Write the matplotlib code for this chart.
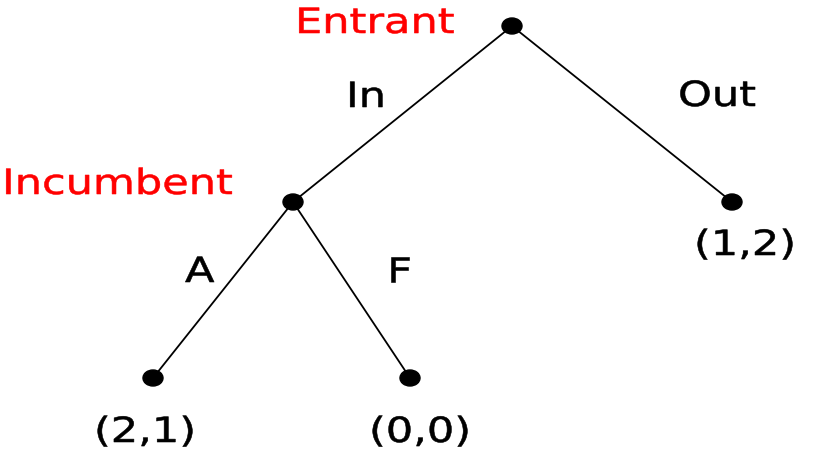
import matplotlib
matplotlib.use("Agg")
import matplotlib.pyplot as plt
from matplotlib.patches import Ellipse
from matplotlib.patheffects import AbstractPathEffect
from matplotlib.transforms import Affine2D

# Game tree: node positions (pixel-like layout units, y downward)
node_names = ["root", "incumbent", "out", "accept", "fight"]
node_x = [512, 293, 732, 153, 410]
node_y = [26, 202, 202, 378, 378]

# Edges (parent, child) and action labels
edges = [("root", "incumbent"), ("root", "out"), ("incumbent", "accept"), ("incumbent", "fight")]
action_labels = ["In", "Out", "A", "F"]
action_pos = [(346, 107), (678, 106), (185, 282), (387, 282)]

# Player labels
player_labels = ["Entrant", "Incumbent"]
player_pos = [(295, 33), (2, 194)]

# Payoffs at terminal nodes
payoff_labels = ["(1,2)", "(2,1)", "(0,0)"]
payoff_pos = [(694, 255), (94, 442), (369, 442)]


class StretchX(AbstractPathEffect):
    """Widen glyphs horizontally and thicken strokes slightly."""

    def __init__(self, sx, lw):
        super().__init__()
        self.sx = sx
        self.lw = lw

    def draw_path(self, renderer, gc, tpath, affine, rgbFace=None):
        trans = Affine2D().scale(self.sx, 1.0) + affine
        gc0 = renderer.new_gc()
        gc0.copy_properties(gc)
        gc0.set_linewidth(self.lw)
        if rgbFace is not None:
            gc0.set_foreground(rgbFace)
        gc0.set_joinstyle("round")
        renderer.draw_path(gc0, tpath, trans, rgbFace)
        gc0.restore()


fig = plt.figure(figsize=(8.14, 4.58), dpi=100)
ax = fig.add_axes([0, 0, 1, 1])
ax.set_xlim(0, 814)
ax.set_ylim(458, 0)
ax.axis("off")

pos = dict(zip(node_names, zip(node_x, node_y)))
for a, b in edges:
    ax.plot([pos[a][0], pos[b][0]], [pos[a][1], pos[b][1]], color="black", lw=1.3,
            solid_capstyle="round", zorder=1)

for x, y in zip(node_x, node_y):
    ax.add_patch(Ellipse((x, y), 20, 16, facecolor="black", edgecolor="black", zorder=2))

fs = 25
stretch = [StretchX(1.24, 0.4)]


def put(txt, xy, color):
    ax.text(xy[0], xy[1], txt, fontsize=fs, color=color, ha="left", va="baseline",
            family="DejaVu Sans", path_effects=stretch)


for t, p in zip(player_labels, player_pos):
    put(t, p, "#ff0000")
for t, p in zip(action_labels, action_pos):
    put(t, p, "black")
for t, p in zip(payoff_labels, payoff_pos):
    put(t, p, "black")

fig.savefig("out.png", dpi=100, facecolor="white")
